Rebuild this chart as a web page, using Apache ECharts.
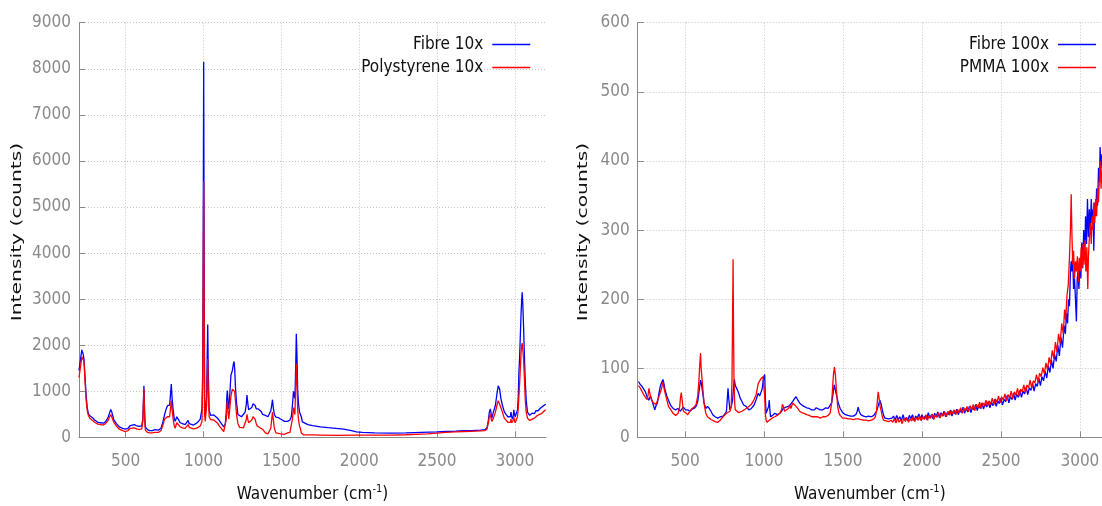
<!DOCTYPE html>
<html>
<head>
<meta charset="utf-8">
<title>Raman spectra</title>
<script src="https://cdn.jsdelivr.net/npm/echarts@6/dist/echarts.min.js"></script>
<style>
  html, body { margin: 0; padding: 0; background: #fff; }
  #chart { width: 1102px; height: 506px; }
</style>
</head>
<body>
<div id="chart"></div>
<script>
// Left panel: fibre vs polystyrene reference, 10x objective
const fibre10Wave = [200,210,218,226,232,240,246,253,260,270,287,300,321,340,356,370,385,397,404,410,424,440,459,480,498,515,530,539,555,573,590,603,610,617,622,626,640,653,670,690,699,710,727,740,750,760,768,776,782,787,793,798,805,812,818,828,837,850,865,882,892,901,908,917,935,951,965,979,990,995,998,1001,1004,1007,1011,1015,1020,1024,1027,1030,1036,1045,1054,1066,1077,1090,1100,1115,1130,1140,1146,1150,1153,1157,1162,1168,1176,1185,1192,1196,1200,1205,1212,1221,1232,1244,1256,1267,1274,1279,1284,1290,1302,1310,1318,1325,1331,1339,1345,1352,1363,1372,1379,1390,1397,1406,1414,1422,1432,1438,1443,1448,1455,1465,1473,1482,1489,1495,1500,1520,1540,1555,1564,1571,1578,1583,1587,1592,1596,1600,1605,1611,1617,1622,1628,1635,1642,1670,1700,1752,1800,1850,1900,1950,1982,2020,2100,2211,2300,2400,2500,2560,2620,2669,2720,2780,2806,2820,2829,2836,2843,2848,2852,2862,2875,2885,2893,2898,2902,2910,2920,2932,2943,2955,2966,2971,2975,2980,2984,2990,2993,2997,3002,3010,3017,3022,3026,3031,3035,3040,3044,3047,3051,3056,3061,3067,3073,3081,3088,3095,3104,3112,3120,3126,3135,3142,3149,3157,3165,3172,3180,3190,3198];
const fibre10Counts = [1450,1700,1900,1820,1700,1250,900,650,520,470,430,380,330,320,310,340,420,540,610,560,380,300,230,200,180,200,260,290,280,250,240,250,400,1120,500,230,170,150,150,170,190,160,200,350,500,620,690,720,700,900,1160,850,600,400,350,450,400,320,300,280,320,370,300,260,270,300,340,400,620,1500,4500,8150,4000,800,450,450,900,1900,2450,1500,600,480,470,490,460,420,380,300,230,300,550,900,1020,800,620,900,1350,1450,1600,1650,1500,1100,750,500,460,450,480,550,700,920,750,600,560,650,730,720,700,620,580,620,640,560,500,490,480,470,450,460,580,700,820,650,500,440,420,430,460,400,360,350,350,380,450,700,1000,900,850,1500,2250,1800,1000,700,550,550,450,340,300,280,260,230,215,200,180,150,120,110,100,95,100,110,120,130,140,150,150,160,170,200,350,550,620,500,420,550,700,950,1120,1150,1050,850,700,560,500,450,420,450,550,450,400,480,600,520,450,480,600,900,1400,1800,2200,2700,3000,3150,2900,2400,1800,1200,800,550,520,480,500,530,560,520,580,600,580,620,640,630,680,700,720];

const polystyrene10Wave = [200,210,218,226,232,240,246,253,260,270,287,300,321,340,356,370,385,397,404,410,424,440,459,480,498,515,530,539,555,573,590,603,610,617,622,626,640,653,670,690,699,710,727,740,750,760,768,776,782,787,793,798,805,812,818,828,837,850,865,882,892,901,908,917,935,951,965,979,990,995,998,1001,1004,1007,1011,1015,1020,1024,1027,1030,1036,1045,1054,1066,1077,1090,1100,1115,1130,1140,1146,1150,1153,1157,1162,1168,1176,1185,1192,1196,1200,1205,1212,1221,1232,1244,1256,1267,1274,1279,1284,1290,1302,1310,1318,1325,1331,1339,1345,1352,1363,1372,1379,1390,1397,1406,1414,1422,1432,1438,1443,1448,1455,1465,1473,1482,1489,1495,1500,1520,1540,1555,1564,1571,1578,1583,1587,1592,1596,1600,1605,1611,1617,1622,1628,1635,1642,1700,1752,1765,1770,1775,1850,1982,2100,2211,2300,2400,2440,2500,2555,2620,2669,2720,2780,2806,2820,2829,2836,2843,2848,2852,2862,2875,2885,2893,2898,2902,2910,2920,2932,2943,2955,2966,2971,2975,2980,2984,2990,2993,2997,3002,3010,3017,3022,3026,3031,3035,3040,3044,3047,3051,3056,3061,3067,3073,3081,3088,3095,3104,3112,3120,3126,3135,3142,3149,3157,3165,3172,3180,3190,3198];
const polystyrene10Counts = [1300,1550,1750,1720,1650,1150,800,580,480,420,370,330,290,280,270,300,360,450,500,470,330,250,180,150,130,150,200,230,210,180,175,185,350,1050,420,160,110,100,100,110,130,110,150,280,400,440,450,460,450,600,800,600,400,250,200,320,300,230,210,200,240,280,220,180,185,200,220,250,350,1200,3500,5550,3000,500,350,350,700,1300,1700,1100,450,390,380,380,350,310,260,190,130,170,400,700,800,600,400,600,900,1050,1080,1050,1000,800,500,300,220,200,210,250,380,500,400,320,300,380,450,430,400,300,250,230,210,190,180,140,100,85,80,100,200,400,550,400,200,100,80,90,120,80,60,70,100,110,150,400,650,550,500,1100,1600,1300,600,350,250,200,100,70,60,55,50,50,90,50,45,50,50,50,60,75,80,95,110,120,130,135,145,150,180,300,450,500,400,350,420,550,700,800,820,780,650,550,420,380,330,300,330,400,320,300,380,450,380,320,350,450,650,900,1200,1500,1850,2000,2050,1900,1700,1300,800,550,420,400,370,380,400,430,420,450,470,480,500,510,520,550,580,600];

// Right panel: fibre vs PMMA reference, 100x objective
const fibre100Wave = [205,215,227,238,249,260,271,280,286,292,299,308,316,325,333,343,352,360,366,373,384,395,410,424,440,456,470,489,503,517,530,544,557,570,580,587,593,598,603,609,620,631,642,653,664,675,690,707,722,740,752,762,767,772,777,784,793,801,806,812,818,827,838,849,860,871,887,904,920,937,950,963,972,980,988,993,999,1004,1008,1013,1018,1024,1029,1033,1037,1041,1054,1068,1084,1100,1111,1122,1138,1155,1168,1181,1192,1203,1214,1225,1239,1253,1270,1286,1302,1319,1330,1340,1356,1373,1390,1406,1418,1428,1435,1439,1445,1450,1455,1461,1470,1482,1498,1515,1531,1548,1565,1581,1590,1596,1602,1613,1630,1646,1663,1679,1695,1712,1722,1733,1742,1749,1757,1766,1788,1810,
  1820,1830,1840,1850,1860,1870,1880,1890,1900,1910,1920,1930,1940,1950,1960,1970,1980,1990,2000,2010,2020,2030,2040,2050,2060,2070,2080,2090,2100,2110,2120,2130,2140,2150,2160,2170,2180,2190,2200,2210,2220,2230,2240,2250,2260,2270,2280,2290,2300,2310,2320,2330,2340,2350,2360,2370,2380,2390,2400,2410,2420,2430,2440,2450,2460,2470,2480,2490,2500,2510,2520,2530,2540,2550,2560,2570,2580,2590,2600,2610,2620,2630,2640,2650,2660,2670,2680,2690,2700,2710,2720,2730,2740,2750,2760,2770,2780,2790,2800,2810,2820,2830,2840,2850,2860,2870,2880,2890,2900,2908,2915,2922,2928,2934,2940,
  2945,2948,2954,2960,2966,2972,2978,2983,2988,2994,3000,3006,3012,3018,3024,3030,3036,3042,3048,3054,3060,3066,3072,3078,3084,3088,3094,3100,3106,3112,3118,3124,3128,3134,3140];
const fibre100Counts = [81,77,74,70,66,58,54,60,57,52,47,40,46,50,62,74,80,84,78,69,60,54,46,42,40,42,38,44,40,40,38,41,42,45,52,64,75,83,78,69,50,42,45,42,38,33,30,28,30,31,34,38,55,71,55,40,45,54,70,84,75,71,65,57,52,47,45,40,42,47,55,64,60,59,70,79,88,91,60,35,36,35,45,54,40,30,32,35,33,35,38,42,44,45,48,52,56,59,54,50,47,45,43,42,40,40,43,42,40,40,43,42,40,50,60,67,76,74,65,59,50,42,36,33,32,31,31,33,38,44,38,33,31,30,31,30,32,38,45,54,48,40,32,28,27,28,
  31,25,32,26,30,24,33,25,29,24,32,27,33,24,31,28,34,26,33,27,31,26,36,28,33,27,35,30,37,29,36,31,38,30,36,33,40,31,39,34,41,33,40,36,44,35,42,37,45,36,44,40,48,39,46,42,50,41,49,44,52,43,51,46,55,45,53,49,57,47,55,52,61,50,59,55,64,54,63,58,68,58,67,63,73,62,72,68,79,67,78,74,86,75,88,82,96,86,104,94,112,100,120,110,134,118,145,130,162,150,180,165,200,190,240,
  255,240,262,215,230,200,168,230,240,215,258,230,282,245,300,265,320,280,345,290,330,300,345,310,330,270,340,320,360,335,390,370,420,390,410];

const pmma100Wave = [205,215,227,238,249,260,266,271,276,286,299,308,316,325,333,343,352,360,366,373,384,395,410,424,440,456,466,471,476,481,489,503,517,530,544,557,570,580,587,593,598,602,609,620,631,642,653,664,675,690,707,722,740,762,784,792,797,801,804,807,810,814,818,827,838,849,860,871,887,904,920,937,950,963,972,980,988,993,999,1004,1008,1013,1018,1024,1033,1050,1068,1084,1100,1111,1116,1122,1130,1140,1155,1163,1170,1181,1192,1203,1214,1225,1239,1253,1270,1286,1302,1319,1330,1340,1356,1373,1390,1406,1418,1428,1435,1440,1446,1452,1458,1466,1475,1482,1498,1515,1531,1548,1565,1581,1596,1613,1630,1646,1663,1679,1695,1705,1712,1718,1723,1728,1735,1742,1749,1757,1766,1788,1805,
  1815,1825,1835,1845,1855,1865,1875,1885,1895,1905,1915,1925,1935,1945,1955,1965,1975,1985,1995,2005,2015,2025,2035,2045,2055,2065,2075,2085,2095,2105,2115,2125,2135,2145,2155,2165,2175,2185,2195,2205,2215,2225,2235,2245,2255,2265,2275,2285,2295,2305,2315,2325,2335,2345,2355,2365,2375,2385,2395,2405,2415,2425,2435,2445,2455,2465,2475,2485,2495,2505,2515,2525,2535,2545,2555,2565,2575,2585,2595,2605,2615,2625,2635,2645,2655,2665,2675,2685,2695,2705,2715,2725,2735,2745,2755,2765,2775,2785,2795,2805,2815,2825,2835,2845,2855,2865,2875,2885,2895,2903,2910,2918,2926,2934,2940,
  2945,2950,2955,2960,2966,2972,2978,2984,2990,2996,3002,3008,3014,3020,3026,3032,3038,3044,3050,3054,3060,3066,3072,3078,3084,3088,3094,3100,3106,3112,3118,3124,3128,3134,3140];
const pmma100Counts = [75,72,70,62,58,55,62,71,65,55,50,48,48,50,58,65,72,80,72,65,55,45,40,35,32,35,45,58,65,55,38,36,33,38,42,44,48,60,80,105,122,100,80,50,35,30,28,26,25,23,22,25,30,35,38,45,80,180,258,150,80,50,40,38,36,38,38,40,42,45,48,55,62,78,80,85,85,88,87,60,35,25,22,22,25,28,30,32,35,40,48,45,38,40,42,47,42,50,48,45,42,38,36,35,33,32,30,30,32,30,28,30,30,32,35,50,75,92,102,90,70,45,35,32,28,28,27,27,26,27,27,26,25,25,24,25,27,30,38,55,66,58,45,38,30,25,24,23,25,
  22,27,21,28,22,26,20,28,23,29,22,27,24,30,23,29,25,31,24,30,26,33,25,31,28,34,26,33,29,36,28,35,31,37,30,38,32,39,34,40,33,41,36,43,35,43,38,45,37,46,40,48,39,48,43,51,42,50,46,54,45,53,48,57,47,56,51,60,50,59,54,63,53,62,57,67,56,66,61,71,60,70,66,76,65,76,72,83,71,82,79,91,80,93,88,101,92,108,98,116,106,126,114,138,124,150,136,165,150,185,170,205,220,260,300,
  352,290,250,270,230,255,240,262,225,260,240,275,245,280,250,285,240,275,215,260,290,310,280,320,300,340,310,345,320,360,340,380,400,360,390];

// Axis ticks and ranges
const xTickValues = [500, 1000, 1500, 2000, 2500, 3000];
const leftXRange = [200, 3200];
const rightXRange = [200, 3140];
const leftYRange = [0, 9000, 1000];
const rightYRange = [0, 600, 100];

const seriesNames = ['Fibre 10x', 'Polystyrene 10x', 'Fibre 100x', 'PMMA 100x'];
const xTitle = 'Wavenumber (cm';
const yTitle = 'Intensity (counts)';

const NARROW = "'Liberation Sans Narrow', 'DejaVu Sans Condensed', sans-serif";
const GREY = '#8a8a8a';

function pairs(xs, ys) {
  return xs.map((x, i) => [x, ys[i]]);
}

function plainNumber(v) {
  return String(v);
}

function xAxisFor(gridIndex, range) {
  return {
    type: 'value',
    gridIndex,
    min: range[0],
    max: range[1],
    name: '{t|' + xTitle + '}{s|-1}{t|)}',
    nameLocation: 'middle',
    nameGap: 46,
    nameTextStyle: {
      rich: {
        t: { fontFamily: NARROW, fontSize: 17, color: '#111', lineHeight: 20, verticalAlign: 'bottom' },
        s: { fontFamily: NARROW, fontSize: 11, color: '#111', lineHeight: 12, verticalAlign: 'top' }
      }
    },
    axisLine: { show: true, onZero: false, lineStyle: { color: '#8a8a8a', width: 1 } },
    axisTick: { show: true, inside: true, length: 6, customValues: xTickValues, lineStyle: { color: '#8a8a8a' } },
    axisLabel: { customValues: xTickValues, formatter: plainNumber, color: GREY, fontFamily: NARROW, fontSize: 17, margin: 16 },
    splitLine: { show: true, lineStyle: { color: '#c4c4c4', type: [1, 2], width: 1 } }
  };
}

function yAxisFor(gridIndex, range) {
  return {
    type: 'value',
    gridIndex,
    min: range[0],
    max: range[1],
    interval: range[2],
    axisLine: { show: true, lineStyle: { color: '#8a8a8a', width: 1 } },
    axisTick: { show: true, inside: true, length: 6, lineStyle: { color: '#8a8a8a' } },
    axisLabel: { formatter: plainNumber, color: GREY, fontFamily: NARROW, fontSize: 17, margin: 8 },
    splitLine: { show: true, lineStyle: { color: '#c4c4c4', type: [1, 2], width: 1 } }
  };
}

function lineSeries(name, idx, xs, ys, color) {
  return {
    name,
    type: 'line',
    xAxisIndex: idx,
    yAxisIndex: idx,
    data: pairs(xs, ys),
    symbol: 'none',
    showSymbol: false,
    lineStyle: { color, width: 1.3 },
    itemStyle: { color },
    emphasis: { disabled: true },
    animation: false
  };
}

function legendFor(names, right) {
  return {
    data: names,
    orient: 'vertical',
    align: 'right',
    right,
    top: 36,
    padding: 0,
    itemGap: 6,
    icon: 'rect',
    itemWidth: 38,
    itemHeight: 1.6,
    selectedMode: false,
    textStyle: { fontFamily: NARROW, fontSize: 17, color: '#111', lineHeight: 17, padding: [0, 4, 0, 0] }
  };
}

function yTitleText(x) {
  return {
    type: 'text',
    x,
    y: 232,
    rotation: Math.PI / 2,
    scaleX: 1.45,
    scaleY: 1,
    silent: true,
    style: {
      text: yTitle,
      font: '14px "DejaVu Sans", sans-serif',
      fill: '#111',
      align: 'center',
      verticalAlign: 'middle'
    }
  };
}

const chart = echarts.init(document.getElementById('chart'), null, { renderer: 'canvas' });

chart.setOption({
  backgroundColor: '#fff',
  animation: false,
  grid: [
    { left: 79, right: 556, top: 22.7, bottom: 68.5, containLabel: false, outerBoundsMode: 'none' },
    { left: 637.7, right: 0, top: 22.7, bottom: 68.5, containLabel: false, outerBoundsMode: 'none' }
  ],
  xAxis: [xAxisFor(0, leftXRange), xAxisFor(1, rightXRange)],
  yAxis: [yAxisFor(0, leftYRange), yAxisFor(1, rightYRange)],
  legend: [
    legendFor([seriesNames[0], seriesNames[1]], 571.7),
    legendFor([seriesNames[2], seriesNames[3]], 6)
  ],
  graphic: [yTitleText(17.5), yTitleText(583.5)],
  series: [
    lineSeries(seriesNames[0], 0, fibre10Wave, fibre10Counts, '#0000ff'),
    lineSeries(seriesNames[1], 0, polystyrene10Wave, polystyrene10Counts, '#ff0000'),
    lineSeries(seriesNames[2], 1, fibre100Wave, fibre100Counts, '#0000ff'),
    lineSeries(seriesNames[3], 1, pmma100Wave, pmma100Counts, '#ff0000')
  ]
});
</script>
</body>
</html>
